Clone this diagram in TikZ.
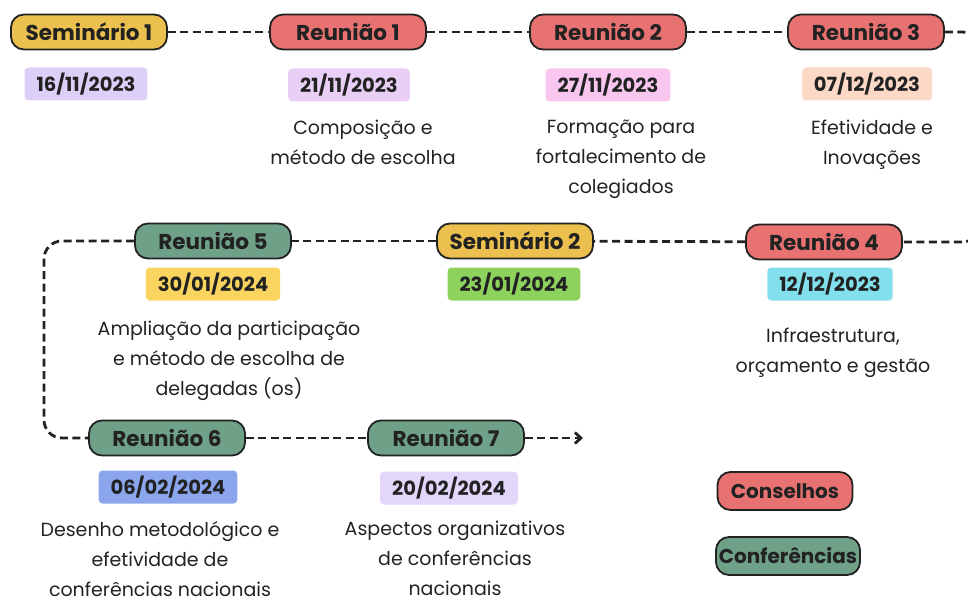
\documentclass[tikz,border=0pt]{standalone}
\usepackage{fontspec}
\setmainfont{Poppins}
\usetikzlibrary{arrows.meta}

\definecolor{conselho}{HTML}{E87272}
\definecolor{conferencia}{HTML}{6FA088}
\definecolor{seminario}{HTML}{EBC04E}
\definecolor{tinta}{HTML}{222222}
\definecolor{lavanda}{HTML}{DCCFF8}
\definecolor{lilas}{HTML}{E9CFF6}
\definecolor{rosa}{HTML}{F8C6EE}
\definecolor{pessego}{HTML}{FCD9C6}
\definecolor{amarelo}{HTML}{F9D45E}
\definecolor{verde}{HTML}{8ED25E}
\definecolor{ciano}{HTML}{82DFEC}
\definecolor{azul}{HTML}{8CA6EE}
\definecolor{lavclara}{HTML}{E2D6FB}

\begin{document}
\begin{tikzpicture}[x=1pt,y=-1pt,
  pill/.style={draw=tinta,line width=1.8pt,rounded corners=13pt,minimum width=156pt,minimum height=35pt,inner sep=0pt,text=tinta,font=\fontsize{21.5}{23}\selectfont\bfseries},
  datebox/.style={rounded corners=4pt,minimum height=33pt,inner xsep=12pt,inner ysep=0pt,text=tinta,font=\fontsize{19.5}{21}\selectfont\bfseries},
  desc/.style={align=center,anchor=north,inner sep=0pt,text=tinta,font=\fontsize{19}{30}\selectfont},
  link/.style={draw=tinta,line width=2.8pt,dash pattern=on 8pt off 4.5pt},
]
\useasboundingbox (0,0) rectangle (968,604);
\clip (0,0) rectangle (968,604);

% primeira linha
\node[pill,fill=seminario] (sem1) at (89,32) {Seminário 1};
\node[pill,fill=conselho] (r1) at (348,32) {Reunião 1};
\node[pill,fill=conselho] (r2) at (608,32) {Reunião 2};
\node[pill,fill=conselho] (r3) at (866,32) {Reunião 3};
\node[datebox,fill=lavanda] (d1) at (86,84) {16/11/2023};
\node[datebox,fill=lilas] (d2) at (349,85) {21/11/2023};
\node[datebox,fill=rosa] (d3) at (608,85) {27/11/2023};
\node[datebox,fill=pessego] (d4) at (867,84) {07/12/2023};
\node[desc] (t2) at (363,120) {Composição e\\método de escolha};
\node[desc] (t3) at (621,120) {Formação para\\fortalecimento de\\colegiados};
\node[desc] (t4) at (872,120) {Efetividade e\\Inovações};

% segunda linha
\node[pill,fill=conferencia] (r5) at (213,241) {Reunião 5};
\node[pill,fill=seminario] (sem2) at (515,241) {Seminário 2};
\node[pill,fill=conselho] (r4) at (824,242) {Reunião 4};
\node[datebox,fill=amarelo] (d5) at (213,284) {30/01/2024};
\node[datebox,fill=verde] (d6) at (514,284) {23/01/2024};
\node[datebox,fill=ciano] (d7) at (830,284) {12/12/2023};
\node[desc] (t5) at (229,321) {Ampliação da participação\\e método de escolha de\\delegadas (os)};
\node[desc] (t7) at (833,328) {Infraestrutura,\\orçamento e gestão};

% terceira linha
\node[pill,fill=conferencia] (r6) at (167,438) {Reunião 6};
\node[pill,fill=conferencia] (r7) at (446,438) {Reunião 7};
\node[datebox,fill=azul] (d8) at (168,487) {06/02/2024};
\node[datebox,fill=lavclara] (d9) at (449,488) {20/02/2024};
\node[desc] (t8) at (160,521) {Desenho metodológico e\\efetividade de\\conferências nacionais};
\node[desc] (t9) at (455,521) {Aspectos organizativos\\de conferências\\nacionais};

% legenda
\node[pill,fill=conselho,minimum width=135pt,minimum height=38pt,font=\fontsize{20}{22}\selectfont\bfseries] (leg1) at (785,491) {Conselhos};
\node[pill,fill=conferencia,minimum width=144pt,minimum height=38pt,font=\fontsize{20}{22}\selectfont\bfseries] (leg2) at (788,556) {Conferências};

% ligacoes
\coordinate (rx) at (982,0);
\coordinate (lx) at (44,0);
\coordinate (fim) at (583,438);
\draw[link] (sem1) -- (r1);
\draw[link] (r1) -- (r2);
\draw[link] (r2) -- (r3);
\draw[link,rounded corners=20pt] (r3.east) -- (r3.east -| rx) -- (r4.east -| rx) -- (r4.east);
\draw[link] (r4) -- (sem2);
\draw[link] (sem2) -- (r5);
\draw[link,rounded corners=18pt] (r5.west) -- (r5.west -| lx) -- (r6.west -| lx) -- (r6.west);
\draw[link] (r6) -- (r7);
\draw[link,-{Straight Barb[length=6pt,width=11pt]}] (r7.east) -- (fim);
\end{tikzpicture}
\end{document}
